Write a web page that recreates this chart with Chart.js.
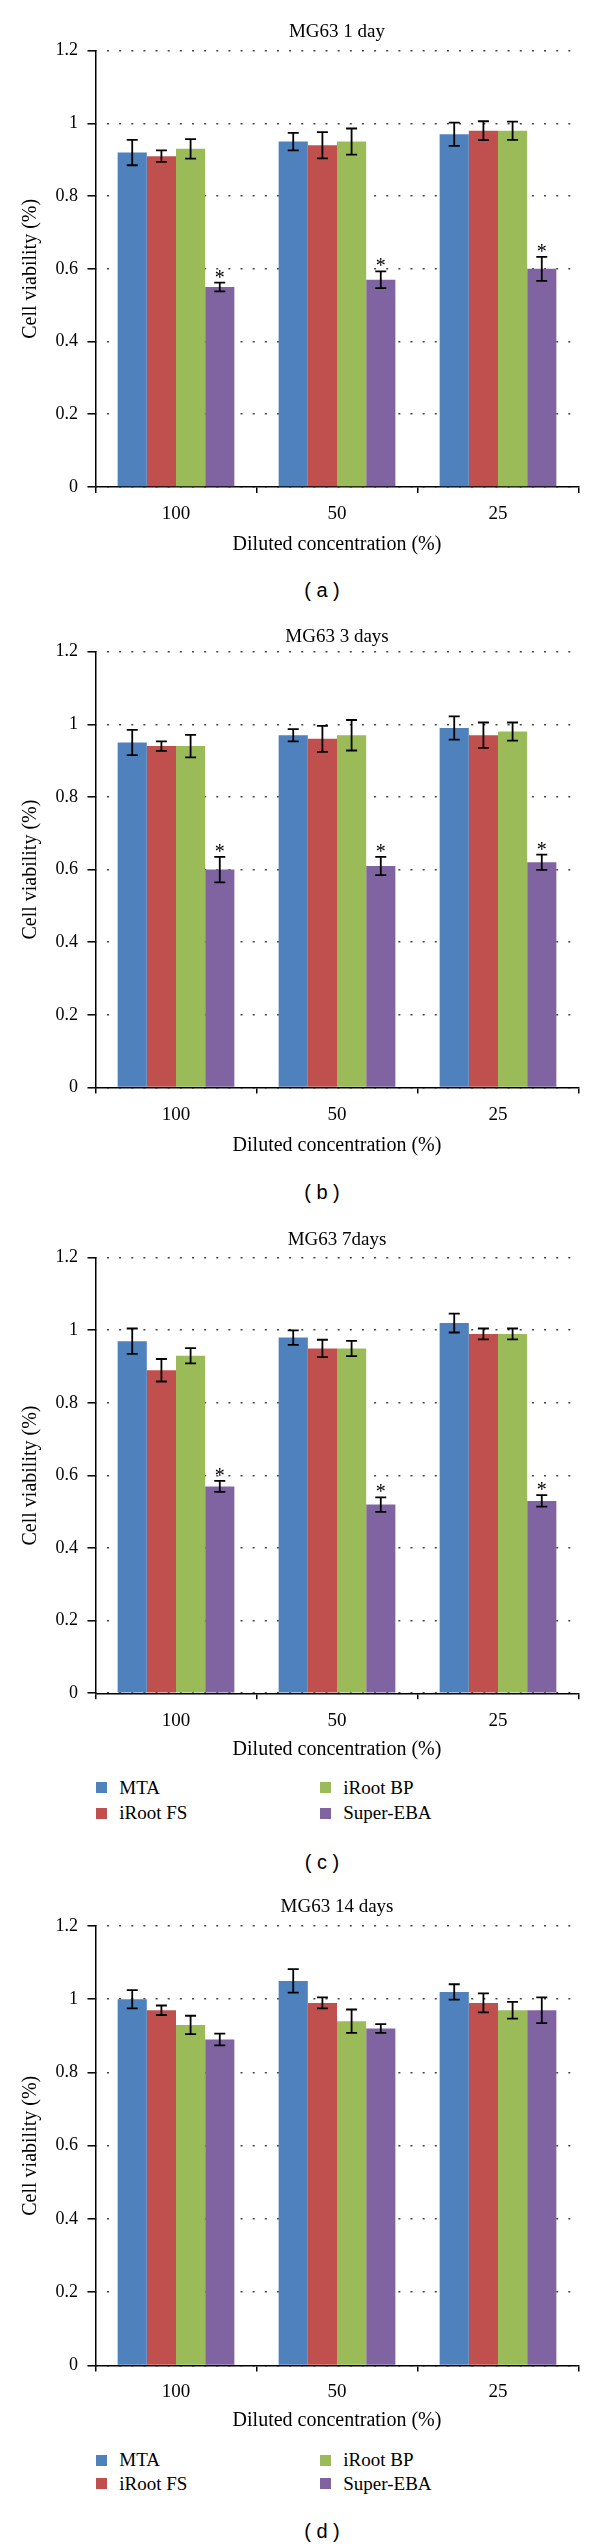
<!DOCTYPE html>
<html>
<head>
<meta charset="utf-8">
<script src="https://cdn.jsdelivr.net/npm/chart.js@4"></script>
<style>
  html, body { margin: 0; padding: 0; background: #fff; }
  body { position: relative; width: 600px; height: 2547px; overflow: hidden; }
  canvas { position: absolute; left: 0; }
  .caption { position: absolute; width: 120px; text-align: center; font: 20px "Liberation Sans", Arial, sans-serif; line-height: 24px; color: #000; }
  .legend-box { position: absolute; width: 11px; height: 11px; }
  .legend-text { position: absolute; font: 19px "Liberation Serif", "Times New Roman", serif; line-height: 22px; color: #000; white-space: nowrap; }
</style>
</head>
<body>
<script>
// Data
const categories = ["100", "50", "25"];
const seriesNames = ["MTA", "iRoot FS", "iRoot BP", "Super-EBA"];
const yTickValues = [0, 0.2, 0.4, 0.6, 0.8, 1, 1.2];
const chartTitles = ["MG63 1 day", "MG63 3 days", "MG63 7days", "MG63 14 days"];
const panelLabels = ["( a )", "( b )", "( c )", "( d )"];

// rows: MTA, iRoot FS, iRoot BP, Super-EBA ; columns: 100, 50, 25
const day1Means = [
  [0.92, 0.95, 0.97],
  [0.91, 0.94, 0.98],
  [0.93, 0.95, 0.98],
  [0.55, 0.57, 0.60]
];
const day1Errors = [
  [0.035, 0.024, 0.032],
  [0.016, 0.036, 0.026],
  [0.027, 0.036, 0.025],
  [0.012, 0.023, 0.033]
];
const day1Stars = [false, false, false, true];

const day3Means = [
  [0.95, 0.97, 0.99],
  [0.94, 0.96, 0.97],
  [0.94, 0.97, 0.98],
  [0.60, 0.61, 0.62]
];
const day3Errors = [
  [0.035, 0.017, 0.032],
  [0.013, 0.036, 0.035],
  [0.031, 0.042, 0.025],
  [0.035, 0.025, 0.021]
];
const day3Stars = [false, false, false, true];

const day7Means = [
  [0.97, 0.98, 1.02],
  [0.89, 0.95, 0.99],
  [0.93, 0.95, 0.99],
  [0.57, 0.52, 0.53]
];
const day7Errors = [
  [0.035, 0.020, 0.026],
  [0.031, 0.024, 0.015],
  [0.021, 0.021, 0.015],
  [0.015, 0.020, 0.016]
];
const day7Stars = [false, false, false, true];

const day14Means = [
  [1.00, 1.05, 1.02],
  [0.97, 0.99, 0.99],
  [0.93, 0.94, 0.97],
  [0.89, 0.92, 0.97]
];
const day14Errors = [
  [0.025, 0.032, 0.021],
  [0.013, 0.015, 0.026],
  [0.025, 0.032, 0.023],
  [0.016, 0.012, 0.035]
];
const day14Stars = [false, false, false, false];

// styles
const seriesColors = ["#4F81BD", "#C0504D", "#9BBB59", "#8064A2"];
const serif = "'Liberation Serif', 'Times New Roman', serif";

// page layout (pixel positions of each panel)
const layouts = [
  { titleY: 31.7, areaTop: 50.7, areaBottom: 487, tickY: 514, xTitleY: 545, captionY: 591.7, legendY: null },
  { titleY: 637.3, areaTop: 651.7, areaBottom: 1087.5, tickY: 1115.3, xTitleY: 1146, captionY: 1193.3, legendY: null },
  { titleY: 1240.5, areaTop: 1257.7, areaBottom: 1693.3, tickY: 1720.7, xTitleY: 1750, captionY: 1863.3, legendY: [1787.7, 1813.3] },
  { titleY: 1907.3, areaTop: 1926, areaBottom: 2365.5, tickY: 2392, xTitleY: 2421, captionY: 2532, legendY: [2460.3, 2483.7] }
];

const panels = [
  { means: day1Means, errors: day1Errors, stars: day1Stars },
  { means: day3Means, errors: day3Errors, stars: day3Stars },
  { means: day7Means, errors: day7Errors, stars: day7Stars },
  { means: day14Means, errors: day14Errors, stars: day14Stars }
];

// error bars + significance stars
const errorBarPlugin = {
  id: "errorBars",
  afterDatasetsDraw(chart) {
    const { ctx } = chart;
    const y = chart.scales.y;
    ctx.save();
    ctx.strokeStyle = "#000";
    ctx.fillStyle = "#000";
    ctx.lineWidth = 1.8;
    ctx.font = "20px " + serif;
    ctx.textAlign = "center";
    ctx.textBaseline = "alphabetic";
    chart.data.datasets.forEach((ds, i) => {
      const meta = chart.getDatasetMeta(i);
      meta.data.forEach((bar, j) => {
        const v = ds.data[j], e = ds.errors[j];
        const top = y.getPixelForValue(v + e);
        const bot = y.getPixelForValue(v - e);
        const cap = 5.5;
        ctx.beginPath();
        ctx.moveTo(bar.x, top); ctx.lineTo(bar.x, bot);
        ctx.moveTo(bar.x - cap, top); ctx.lineTo(bar.x + cap, top);
        ctx.moveTo(bar.x - cap, bot); ctx.lineTo(bar.x + cap, bot);
        ctx.stroke();
        if (ds.star) ctx.fillText("*", bar.x, top + 1);
      });
    });
    ctx.restore();
  }
};

function addCaption(text, y) {
  const d = document.createElement("div");
  d.className = "caption";
  d.textContent = text;
  d.style.left = (322 - 60) + "px";
  d.style.top = (y - 13.5) + "px";
  document.body.appendChild(d);
}

function addLegend(rowsY) {
  seriesNames.forEach((name, k) => {
    const col = Math.floor(k / 2), row = k % 2;
    const box = document.createElement("div");
    box.className = "legend-box";
    box.style.background = seriesColors[k];
    box.style.left = (96 + col * 224) + "px";
    box.style.top = (rowsY[row] - 5.5) + "px";
    document.body.appendChild(box);
    const t = document.createElement("div");
    t.className = "legend-text";
    t.textContent = name;
    t.style.left = (119.3 + col * 224) + "px";
    t.style.top = (rowsY[row] - 11) + "px";
    document.body.appendChild(t);
  });
}

function buildPanel(idx) {
  const p = panels[idx], L = layouts[idx];
  const canvasTop = Math.round(L.titleY - 21.4);
  const canvasH = Math.round(L.xTitleY + 12 - canvasTop);
  const titlePadTop = L.titleY - 11.4 - canvasTop;
  const titlePadBottom = L.areaTop - (L.titleY + 11.4);
  const xScaleH = canvasTop + canvasH - L.areaBottom;
  const tickPad = L.tickY - L.areaBottom - 6 - 11.4;

  const canvas = document.createElement("canvas");
  canvas.width = 600;
  canvas.height = canvasH;
  canvas.style.top = canvasTop + "px";
  document.body.appendChild(canvas);

  new Chart(canvas, {
    type: "bar",
    data: {
      labels: categories,
      datasets: seriesNames.map((name, i) => ({
        label: name,
        data: p.means[i],
        errors: p.errors[i],
        star: p.stars[i],
        backgroundColor: seriesColors[i],
        borderWidth: 0,
        categoryPercentage: 0.725,
        barPercentage: 1.0
      }))
    },
    options: {
      responsive: false,
      animation: false,
      layout: { padding: { left: 0, right: 21.5, top: 0, bottom: 0 } },
      plugins: {
        legend: { display: false },
        tooltip: { enabled: false },
        title: {
          display: true,
          text: chartTitles[idx],
          fullSize: false,
          color: "#000",
          font: { family: serif, size: 19, weight: "normal" },
          padding: { top: titlePadTop, bottom: titlePadBottom }
        }
      },
      scales: {
        x: {
          grid: { display: true, drawOnChartArea: false, drawTicks: true, tickLength: 6, color: "#000", lineWidth: 1.5, offset: true },
          border: { display: true, color: "#000", width: 1.5 },
          ticks: { color: "#000", font: { family: serif, size: 19 }, padding: tickPad },
          title: { display: true, text: "Diluted concentration (%)", color: "#000", font: { family: serif, size: 20 }, padding: { top: 0, bottom: 0 } },
          afterFit(s) { s.height = xScaleH; }
        },
        y: {
          min: 0,
          max: 1.2,
          afterBuildTicks(s) { s.ticks = yTickValues.map(v => ({ value: v })); },
          grid: { color: "#444", lineWidth: 1.6, drawTicks: true, tickLength: 8, tickColor: "#000", tickWidth: 1.5 },
          border: { display: true, color: "#000", width: 1.5, dash: [2, 10.14], dashOffset: 1.64 },
          ticks: { color: "#000", font: { family: serif, size: 18 }, padding: 9.5, callback: v => String(v) },
          title: { display: true, text: "Cell viability (%)", color: "#000", font: { family: serif, size: 20 }, padding: { top: 19, bottom: 0 } },
          afterFit(s) { s.width = 95.5; }
        }
      }
    },
    plugins: [errorBarPlugin]
  });

  if (L.legendY) addLegend(L.legendY);
  addCaption(panelLabels[idx], L.captionY);
}

panels.forEach((_, i) => buildPanel(i));
</script>
</body>
</html>
